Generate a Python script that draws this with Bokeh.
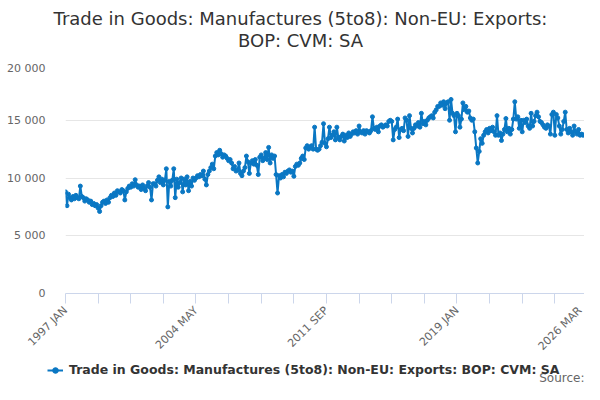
import math
from bokeh.plotting import figure
from bokeh.layouts import column
from bokeh.models import Legend, LegendItem, FixedTicker, Range1d
from bokeh.core.properties import value
from bokeh.embed import file_html
from bokeh.resources import INLINE

title_lines = ["Trade in Goods: Manufactures (5to8): Non-EU: Exports:", "BOP: CVM: SA"]
series_name = "Trade in Goods: Manufactures (5to8): Non-EU: Exports: BOP: CVM: SA"
source_text = "Source:"

MONTHS = ["JAN", "FEB", "MAR", "APR", "MAY", "JUN", "JUL", "AUG", "SEP", "OCT", "NOV", "DEC"]
start_year = 1997

# monthly values, £ million
v1997 = [8800, 7600, 8600, 8300, 8100, 8400, 8200, 8500, 8300, 8200, 9300, 8400]
v1998 = [8300, 8000, 8200, 8100, 7900, 8000, 7700, 7800, 7600, 7700, 7400, 7100]
v1999 = [7600, 7900, 8000, 7800, 8100, 7900, 8300, 8500, 8400, 8700, 8500, 8900]
v2000 = [8800, 8700, 9000, 8900, 8100, 8800, 9100, 9300, 9200, 9500, 9300, 9850]
v2001 = [9400, 9200, 9300, 9000, 9400, 9100, 8900, 9300, 9600, 9200, 8100, 9500]
v2002 = [9500, 9300, 9800, 10100, 9600, 9900, 9400, 9800, 10800, 7500, 9700, 9300]
v2003 = [9800, 10800, 8300, 9900, 9200, 9600, 10000, 8800, 9900, 9400, 10100, 8900]
v2004 = [9700, 9300, 10000, 9800, 10000, 10200, 10100, 10300, 10200, 10600, 9900, 9400]
v2005 = [10300, 10600, 10900, 11200, 10800, 11900, 12200, 12000, 12400, 12100, 11800, 12000]
v2006 = [11900, 11700, 11500, 11600, 11300, 10800, 11000, 10600, 10700, 11300, 10400, 10200]
v2007 = [10600, 10900, 11900, 11400, 10400, 11300, 11500, 11200, 11600, 11100, 10300, 11800]
v2008 = [12000, 11500, 11700, 12200, 11600, 12650, 11300, 12000, 11700, 11900, 10300, 8700]
v2009 = [10200, 10000, 10300, 10100, 10500, 10400, 10600, 10700, 10500, 10600, 10150, 11000]
v2010 = [11200, 11100, 11300, 11700, 11900, 11600, 12600, 12800, 12500, 12700, 12800, 12500]
v2011 = [14400, 12500, 12400, 12500, 12800, 13100, 14700, 13000, 12700, 13400, 14400, 13500]
v2012 = [13700, 14000, 13300, 14400, 13500, 13300, 13600, 13800, 13200, 13700, 13500, 13900]
v2013 = [13600, 13800, 14000, 13900, 14100, 13800, 14500, 14000, 13900, 14100, 13800, 14100]
v2014 = [14000, 13900, 14100, 15300, 14300, 14200, 14400, 14000, 14500, 14600, 14400, 14500]
v2015 = [14600, 14500, 14900, 15000, 14900, 13300, 14200, 14400, 15100, 13500, 14200, 14300]
v2016 = [14100, 15200, 15000, 13600, 15400, 14300, 13900, 14300, 14600, 14500, 14800, 14400]
v2017 = [15600, 14700, 14900, 14600, 15000, 15200, 15300, 15400, 15200, 15700, 15900, 16200]
v2018 = [16200, 16500, 16300, 16600, 16000, 16500, 16600, 15000, 16800, 15600, 15400, 14000]
v2019 = [15600, 15400, 14400, 15100, 16500, 15900, 16200, 15700, 15800, 15200, 15000, 15100]
v2020 = [14000, 12600, 11300, 12300, 13400, 13000, 13700, 14000, 14200, 13900, 14300, 14100]
v2021 = [14400, 14000, 13700, 15400, 13700, 13900, 13250, 13800, 14200, 15150, 14000, 14300]
v2022 = [13800, 14200, 15100, 16600, 15100, 15300, 14300, 15000, 14000, 15000, 14800, 15100]
v2023 = [14500, 14300, 15600, 14500, 14900, 15400, 15700, 15300, 14900, 14800, 14600, 14400]
v2024 = [14300, 14600, 14500, 13800, 15500, 15700, 13700, 15500, 15200, 14500, 13800, 14200]
v2025 = [14900, 15700, 14200, 13900, 14300, 14000, 13700, 14500, 14000, 13800, 14200, 13700]
v2026 = [13800, 13700, 13750]

years = [v1997, v1998, v1999, v2000, v2001, v2002, v2003, v2004, v2005, v2006,
         v2007, v2008, v2009, v2010, v2011, v2012, v2013, v2014, v2015, v2016,
         v2017, v2018, v2019, v2020, v2021, v2022, v2023, v2024, v2025, v2026]

x_tick_labels = ["1997 JAN", "2004 MAY", "2011 SEP", "2019 JAN", "2026 MAR"]
y_ticks = [0, 5000, 10000, 15000, 20000]
y_tick_labels = ["0", "5 000", "10 000", "15 000", "20 000"]

values = [v for yr in years for v in yr]
periods = [f"{start_year + i // 12} {MONTHS[i % 12]}" for i in range(len(values))]
xs = list(range(len(values)))

BLUE = "#0a77c3"
FONT = "DejaVu Sans"
W = 584


def blank(height):
    # a strip with no axes, y counted downwards in pixels
    f = figure(width=W, height=height, output_backend="svg", toolbar_location=None,
               title=None, x_range=Range1d(0, W), y_range=Range1d(height, 0),
               x_axis_type=None, y_axis_type=None, frame_align=False,
               min_border_left=0, min_border_right=0, min_border_top=0, min_border_bottom=0)
    f.outline_line_color = None
    f.background_fill_color = "white"
    f.border_fill_color = "white"
    return f


# header with the two title lines
head = blank(61)
head.text(x=[300, 300], y=[18, 40], text=title_lines, text_align="center",
          text_baseline="middle", text_font=value(FONT), text_font_size="18px",
          text_color="#333333")

# main chart
p = figure(width=W, height=299, output_backend="svg", toolbar_location=None,
           title=None, frame_align=False,
           x_range=Range1d(0, len(values) - 1), y_range=Range1d(0, 20000),
           min_border_left=65, min_border_right=0, min_border_top=1, min_border_bottom=66)
p.outline_line_color = None
p.background_fill_color = "white"
p.border_fill_color = "white"

p.line(xs, values, line_color=BLUE, line_width=2)
p.scatter(xs, values, size=4, fill_color=BLUE, line_color=BLUE)

# x axis: labelled ticks plus unlabelled ones every 22 months
label_pos = [periods.index(t) for t in x_tick_labels]
minor = [t for t in range(22, len(values) - 1, 22) if t not in label_pos]
p.xaxis.ticker = FixedTicker(ticks=label_pos, minor_ticks=minor)
p.xaxis.major_label_overrides = {pos: lab for pos, lab in zip(label_pos, x_tick_labels)}
p.xaxis.major_label_orientation = math.pi / 4
p.xaxis.axis_line_color = "#ccd6eb"
p.xaxis.major_tick_line_color = "#ccd6eb"
p.xaxis.minor_tick_line_color = "#ccd6eb"
p.xaxis.major_tick_in = 0
p.xaxis.major_tick_out = 10
p.xaxis.minor_tick_in = 0
p.xaxis.minor_tick_out = 10
p.xaxis.major_label_text_color = "#666666"
p.xaxis.major_label_text_font = FONT
p.xaxis.major_label_text_font_size = "11px"
p.xaxis.major_label_standoff = 5
p.xgrid.grid_line_color = None

p.yaxis.ticker = FixedTicker(ticks=y_ticks)
p.yaxis.major_label_overrides = {t: lab for t, lab in zip(y_ticks, y_tick_labels)}
p.yaxis.axis_line_color = None
p.yaxis.major_tick_line_color = None
p.yaxis.minor_tick_line_color = None
p.yaxis.major_label_text_color = "#666666"
p.yaxis.major_label_text_font = FONT
p.yaxis.major_label_text_font_size = "11px"
p.yaxis.major_label_standoff = 14
p.ygrid.grid_line_color = "#e6e6e6"

# footer: legend and source note (key glyphs sit off-screen, legend draws the swatch)
foot = blank(24)
key_line = foot.line([-100, -90], [-100, -100], line_color=BLUE, line_width=2)
key_dot = foot.scatter([-100], [-100], size=4, fill_color=BLUE, line_color=BLUE)
legend = Legend(items=[LegendItem(label=series_name, renderers=[key_line, key_dot])],
                location=(47, 7), orientation="horizontal", border_line_color=None,
                background_fill_alpha=0, padding=0, margin=0, glyph_width=16,
                glyph_height=14, label_standoff=6, label_text_font=FONT,
                label_text_font_style="bold", label_text_font_size="12.5px",
                label_text_color="#333333")
foot.add_layout(legend)
foot.text(x=[W], y=[17], text=[source_text], text_align="right", text_baseline="middle",
          text_font=value(FONT), text_font_size="12px", text_color="#666666")

layout = column(head, p, foot, spacing=0)

open("out.html", "w").write(file_html(layout, INLINE))
